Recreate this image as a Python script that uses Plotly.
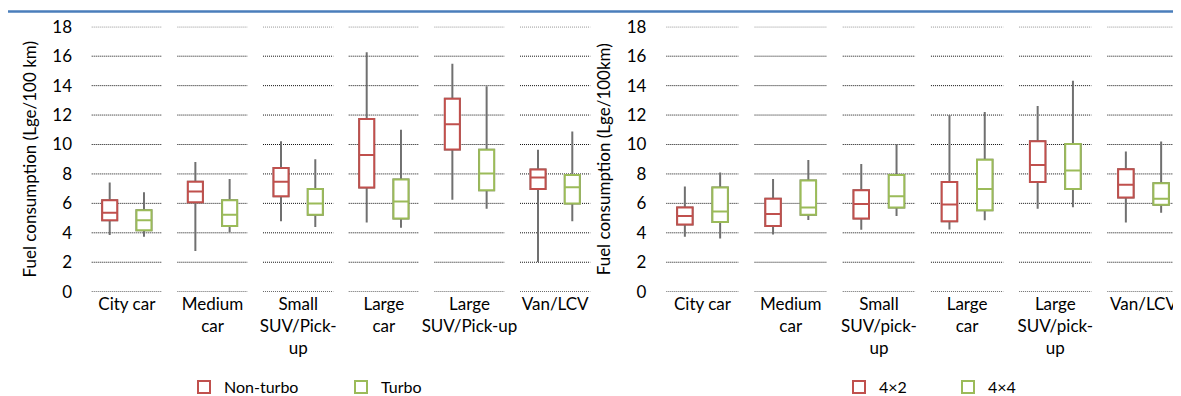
import plotly.graph_objects as go

# ---------------- data ----------------
categories = ["City car", "Medium car", "Small SUV/Pick-up", "Large car", "Large SUV/Pick-up", "Van/LCV"]
left_ticklabels = ["City car", "Medium<br>car", "Small<br>SUV/Pick-<br>up", "Large<br>car", "Large<br>SUV/Pick-up", "Van/LCV"]
right_ticklabels = ["City car", "Medium<br>car", "Small<br>SUV/pick-<br>up", "Large<br>car", "Large<br>SUV/pick-<br>up", "Van/LCV"]
y_ticks = [0, 2, 4, 6, 8, 10, 12, 14, 16, 18]

# Left panel: Non-turbo vs Turbo
nonturbo_low = [3.85, 2.77, 4.79, 4.70, 6.24, 2.01]
nonturbo_q1 = [4.85, 6.08, 6.48, 7.07, 9.66, 6.98]
nonturbo_med = [5.37, 6.80, 7.47, 9.28, 11.38, 7.76]
nonturbo_q3 = [6.21, 7.47, 8.41, 11.74, 13.11, 8.30]
nonturbo_high = [7.42, 8.81, 10.22, 16.26, 15.48, 9.64]

turbo_low = [3.73, 4.03, 4.40, 4.34, 5.64, 4.79]
turbo_q1 = [4.18, 4.47, 5.23, 4.97, 6.89, 5.99]
turbo_med = [4.85, 5.23, 5.99, 6.13, 8.03, 7.09]
turbo_q3 = [5.54, 6.21, 6.98, 7.62, 9.64, 7.92]
turbo_high = [6.75, 7.65, 8.99, 11.00, 13.96, 10.89]

# Right panel: 4x2 vs 4x4
x42_low = [3.73, 3.89, 4.20, 4.23, 5.64, 4.70]
x42_q1 = [4.56, 4.47, 4.97, 4.79, 7.45, 6.40]
x42_med = [5.14, 5.28, 5.95, 5.93, 8.61, 7.27]
x42_q3 = [5.72, 6.31, 6.89, 7.45, 10.22, 8.32]
x42_high = [7.15, 7.65, 8.68, 12.01, 12.62, 9.53]

x44_low = [3.62, 4.87, 5.14, 4.85, 5.74, 5.37]
x44_q1 = [4.74, 5.23, 5.72, 5.54, 6.98, 5.90]
x44_med = [5.44, 5.72, 6.48, 6.98, 8.23, 6.31]
x44_q3 = [7.07, 7.56, 7.92, 8.97, 10.04, 7.36]
x44_high = [8.09, 8.95, 10.02, 12.21, 14.34, 10.20]

# ---------------- style ----------------
RED = "#c0504d"
GREEN = "#9bbb59"
WHISKER = "#707070"
FONT = "Lato"
W, H = 1181, 396

fig = go.Figure()


def add_series(name, color, low, q1, med, q3, high, xaxis, yaxis, group, legend):
    # whiskers (grey) drawn first
    fig.add_trace(go.Box(
        x=categories, lowerfence=low, q1=q1, median=med, q3=q3, upperfence=high,
        xaxis=xaxis, yaxis=yaxis, offsetgroup=group, alignmentgroup=xaxis,
        line=dict(color=WHISKER, width=2), fillcolor="white", whiskerwidth=0,
        showlegend=False, hoverinfo="skip", boxpoints=False,
    ))
    # coloured box on top
    fig.add_trace(go.Box(
        x=categories, lowerfence=q1, q1=q1, median=med, q3=q3, upperfence=q3,
        xaxis=xaxis, yaxis=yaxis, offsetgroup=group, alignmentgroup=xaxis,
        line=dict(color=color, width=2), fillcolor="white", whiskerwidth=0,
        name=name, legend=legend, boxpoints=False,
    ))


add_series("Non-turbo", RED, nonturbo_low, nonturbo_q1, nonturbo_med, nonturbo_q3, nonturbo_high,
           "x", "y", "a", "legend")
add_series("Turbo", GREEN, turbo_low, turbo_q1, turbo_med, turbo_q3, turbo_high,
           "x", "y", "b", "legend")
add_series("4×2", RED, x42_low, x42_q1, x42_med, x42_q3, x42_high,
           "x2", "y2", "c", "legend2")
add_series("4×4", GREEN, x44_low, x44_q1, x44_med, x44_q3, x44_high,
           "x2", "y2", "d", "legend2")

ydom = [1 - 287.3 / H, 1 - 19 / H]
left_dom = [76 / W, 590 / W]
right_dom = [650.4 / W, 1179.6 / W]

common_x = dict(
    type="category", categoryorder="array", categoryarray=categories,
    range=[-0.5, 5.5], showgrid=False, showline=False, ticks="", zeroline=False,
    tickvals=categories, tickfont=dict(family=FONT, size=17, color="#000000"),
    automargin=False, tickangle=0,
)
common_y = dict(
    range=[0, 18], tickvals=y_ticks, showgrid=False, showline=False, ticks="", zeroline=False,
    tickfont=dict(family=FONT, size=17, color="#000000"), automargin=False,
    ticklabelstandoff=11,
)

fig.update_layout(
    width=W, height=H,
    margin=dict(l=0, r=0, t=0, b=0),
    paper_bgcolor="white", plot_bgcolor="white",
    font=dict(family=FONT, size=17, color="#000000"),
    boxmode="group", boxgap=0.2, boxgroupgap=0.5625,
    xaxis=dict(domain=left_dom, anchor="y", ticktext=left_ticklabels, **common_x),
    yaxis=dict(domain=ydom, anchor="x",
               title=dict(text="Fuel consumption (Lge/100 km)", font=dict(family=FONT, size=17), standoff=11),
               **common_y),
    xaxis2=dict(domain=right_dom, anchor="y2", ticktext=right_ticklabels, **common_x),
    yaxis2=dict(domain=ydom, anchor="x2",
                title=dict(text="Fuel consumption (Lge/100km)", font=dict(family=FONT, size=17), standoff=11),
                **common_y),
    legend=dict(orientation="h", x=176 / W, xanchor="left", y=1 - 384 / H, yanchor="middle",
                entrywidth=112, entrywidthmode="pixels", font=dict(family=FONT, size=16),
                bgcolor="rgba(0,0,0,0)"),
    legend2=dict(orientation="h", x=831 / W, xanchor="left", y=1 - 384 / H, yanchor="middle",
                 entrywidth=64, entrywidthmode="pixels", font=dict(family=FONT, size=16),
                 bgcolor="rgba(0,0,0,0)"),
)

# dotted gridline segments, broken between categories (as in the original)
shapes = []
for xr, yr in (("x", "y"), ("x2", "y2")):
    for t in y_ticks:
        for i in range(len(categories)):
            shapes.append(dict(type="line", xref=xr, yref=yr, x0=i - 0.41, x1=i + 0.41, y0=t, y1=t,
                               line=dict(color="#111111", width=1, dash="1px,1px"), layer="below"))
# blue rule at the top
shapes.append(dict(type="line", xref="paper", yref="paper", x0=0, x1=1, y0=1 - 3.6 / H, y1=1 - 3.6 / H,
                   line=dict(color="#4a7ebb", width=2.5)))
fig.update_layout(shapes=shapes)

fig.write_html("out.html")
